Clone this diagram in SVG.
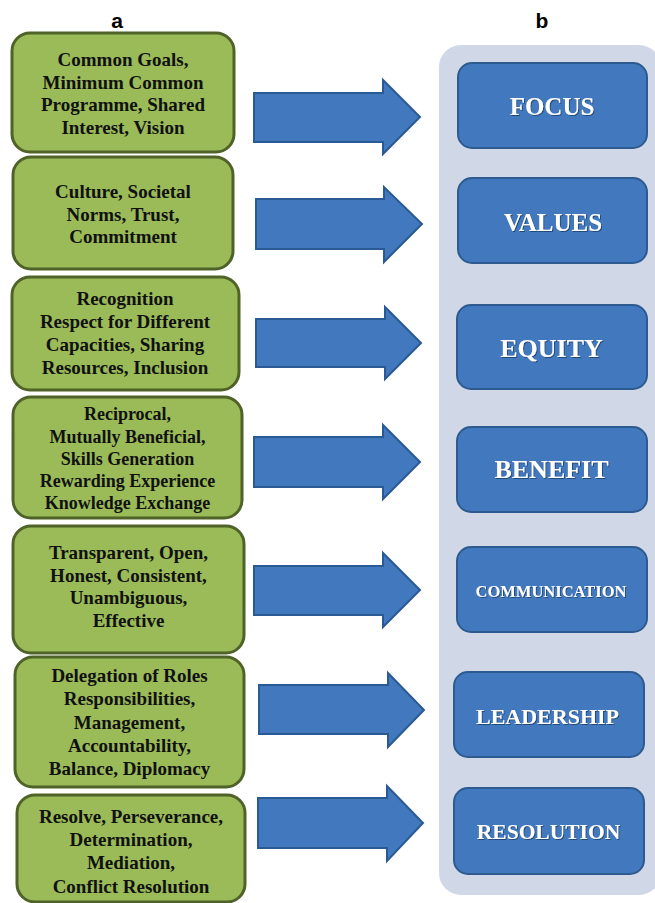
<svg xmlns="http://www.w3.org/2000/svg" width="655" height="903" viewBox="0 0 655 903">
  <style>
    .panel-label { font-family: "Liberation Sans", Arial, sans-serif; font-weight: bold; font-size: 21px; fill: #000; text-anchor: middle; }
    .green { fill: #9bbb59; stroke: #4f6228; stroke-width: 3; }
    .green-text { font-family: "Liberation Serif", "Times New Roman", serif; font-weight: bold; font-size: 19px; fill: #111; text-anchor: middle; }
    .green-text.small { font-size: 18px; }
    .panel { fill: #d0d7e7; }
    .blue { fill: #4279be; stroke: #2d5a8f; stroke-width: 2; }
    .blue-text { font-family: "Liberation Serif", "Times New Roman", serif; font-weight: bold; fill: #fff; text-anchor: middle; filter: url(#textShadow); }
    .arrow { fill: #4178be; stroke: #2a5a93; stroke-width: 2; stroke-linejoin: miter; }
  </style>
  <defs>
    <filter id="textShadow" x="-10%" y="-30%" width="120%" height="160%">
      <feDropShadow dx="1" dy="1" stdDeviation="0.6" flood-color="#1e3d66" flood-opacity="0.8"/>
    </filter>
  </defs>

  <rect width="655" height="903" fill="#ffffff"/>

  <!-- column headings -->
  <text class="panel-label" x="117" y="28">a</text>
  <text class="panel-label" x="542" y="28">b</text>

  <!-- background panel for column b -->
  <rect class="panel" x="439" y="45" width="222" height="850" rx="22" ry="22"/>

  <!-- column a: attribute boxes -->
  <g id="attr-focus">
    <rect class="green" x="12" y="33" width="222" height="119" rx="18" ry="18"/>
    <text class="green-text" x="123" y="66">Common Goals,</text>
    <text class="green-text" x="123" y="88.7">Minimum Common</text>
    <text class="green-text" x="123" y="111.4">Programme, Shared</text>
    <text class="green-text" x="123" y="134">Interest, Vision</text>
  </g>
  <g id="attr-values">
    <rect class="green" x="13" y="157" width="220" height="112" rx="18" ry="18"/>
    <text class="green-text" x="123" y="198">Culture, Societal</text>
    <text class="green-text" x="123" y="221">Norms, Trust,</text>
    <text class="green-text" x="123" y="243">Commitment</text>
  </g>
  <g id="attr-equity">
    <rect class="green" x="12" y="277" width="227" height="113" rx="18" ry="18"/>
    <text class="green-text" x="125" y="305">Recognition</text>
    <text class="green-text" x="125" y="328">Respect for Different</text>
    <text class="green-text" x="125" y="351">Capacities, Sharing</text>
    <text class="green-text" x="125" y="374">Resources, Inclusion</text>
  </g>
  <g id="attr-benefit">
    <rect class="green" x="13" y="397" width="229" height="121" rx="18" ry="18"/>
    <text class="green-text small" x="127.5" y="420">Reciprocal,</text>
    <text class="green-text small" x="127.5" y="443">Mutually Beneficial,</text>
    <text class="green-text small" x="127.5" y="465">Skills Generation</text>
    <text class="green-text small" x="127.5" y="487">Rewarding Experience</text>
    <text class="green-text small" x="127.5" y="509">Knowledge Exchange</text>
  </g>
  <g id="attr-communication">
    <rect class="green" x="13" y="526" width="231" height="127" rx="18" ry="18"/>
    <text class="green-text" x="128.5" y="559">Transparent, Open,</text>
    <text class="green-text" x="128.5" y="582">Honest, Consistent,</text>
    <text class="green-text" x="128.5" y="604">Unambiguous,</text>
    <text class="green-text" x="128.5" y="627">Effective</text>
  </g>
  <g id="attr-leadership">
    <rect class="green" x="15" y="657" width="229" height="130" rx="18" ry="18"/>
    <text class="green-text" x="129.5" y="682">Delegation of Roles</text>
    <text class="green-text" x="129.5" y="705.3">Responsibilities,</text>
    <text class="green-text" x="129.5" y="728.6">Management,</text>
    <text class="green-text" x="129.5" y="752">Accountability,</text>
    <text class="green-text" x="129.5" y="775">Balance, Diplomacy</text>
  </g>
  <g id="attr-resolution">
    <rect class="green" x="17" y="795" width="228" height="107" rx="18" ry="18"/>
    <text class="green-text" x="131" y="823">Resolve, Perseverance,</text>
    <text class="green-text" x="131" y="846">Determination,</text>
    <text class="green-text" x="131" y="869">Mediation,</text>
    <text class="green-text" x="131" y="893">Conflict Resolution</text>
  </g>

  <!-- connectors: block arrows from a to b -->
  <g id="connectors">
    <polygon class="arrow" points="254,93 383,93 383,80 420,117 383,154 383,142 254,142"/>
    <polygon class="arrow" points="256,199 384,199 384,187 422,224 384,262 384,249 256,249"/>
    <polygon class="arrow" points="256,319 385,319 385,307 421,343 385,379 385,367 256,367"/>
    <polygon class="arrow" points="254,437 383,437 383,425 420,462 383,499 383,487 254,487"/>
    <polygon class="arrow" points="254,566 383,566 383,553 420,590 383,627 383,615 254,615"/>
    <polygon class="arrow" points="259,685 388,685 388,673 424,710 388,747 388,734 259,734"/>
    <polygon class="arrow" points="258,798 387,798 387,786 423,823 387,861 387,848 258,848"/>
  </g>

  <!-- column b: principle boxes -->
  <g id="focus">
    <rect class="blue" x="458" y="63" width="189" height="85" rx="14" ry="14"/>
    <text class="blue-text" x="552" y="115" font-size="25">FOCUS</text>
  </g>
  <g id="values">
    <rect class="blue" x="458" y="178" width="189" height="85" rx="14" ry="14"/>
    <text class="blue-text" x="553" y="231" font-size="25">VALUES</text>
  </g>
  <g id="equity">
    <rect class="blue" x="457" y="305" width="190" height="84" rx="14" ry="14"/>
    <text class="blue-text" x="551.5" y="356.5" font-size="26">EQUITY</text>
  </g>
  <g id="benefit">
    <rect class="blue" x="457" y="427" width="190" height="85" rx="14" ry="14"/>
    <text class="blue-text" x="551.5" y="477.5" font-size="26">BENEFIT</text>
  </g>
  <g id="communication">
    <rect class="blue" x="457" y="547" width="190" height="85" rx="14" ry="14"/>
    <text class="blue-text" x="551" y="596.5" font-size="16.5">COMMUNICATION</text>
  </g>
  <g id="leadership">
    <rect class="blue" x="454" y="672" width="190" height="85" rx="14" ry="14"/>
    <text class="blue-text" x="547.5" y="724" font-size="22">LEADERSHIP</text>
  </g>
  <g id="resolution">
    <rect class="blue" x="454" y="788" width="190" height="86" rx="14" ry="14"/>
    <text class="blue-text" x="548.5" y="839" font-size="21.5">RESOLUTION</text>
  </g>
</svg>
